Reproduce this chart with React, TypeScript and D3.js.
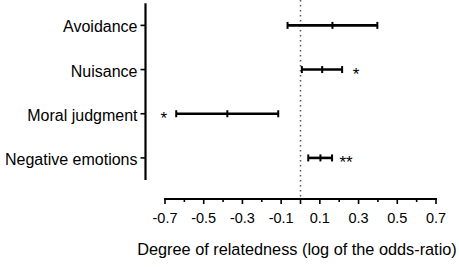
import React from "react";
import * as d3 from "d3";

const categories = ["Avoidance", "Nuisance", "Moral judgment", "Negative emotions"];
const estimates = [0.165, 0.112, -0.378, 0.103];
const lowerCI = [-0.067, 0.007, -0.642, 0.04];
const upperCI = [0.397, 0.215, -0.115, 0.163];
const significance = ["", "*", "*", "**"];
const tickValues = [-0.7, -0.5, -0.3, -0.1, 0.1, 0.3, 0.5, 0.7];
const minorTicks = [-0.7, -0.6, -0.5, -0.4, -0.3, -0.2, -0.1, 0, 0.1, 0.2, 0.3, 0.4, 0.5, 0.6, 0.7];
const xTitle = "Degree of relatedness (log of the odds-ratio)";

const W = 459;
const H = 267;
const FONT = "Liberation Sans, Arial, sans-serif";

export default function App() {
  const x = d3.scaleLinear().domain([-0.7, 0.7]).range([165, 436]);
  const y = d3.scalePoint<string>().domain(categories).range([3.3, 180]).padding(0.5);
  const axisY = 199;
  const yAxisX = 145.5;

  return (
    <svg
      width={W}
      height={H}
      style={{ position: "absolute", left: 0, top: 0, background: "#fff" }}
      fontFamily={FONT}
    >
      <line
        x1={x(0)}
        x2={x(0)}
        y1={0}
        y2={axisY}
        stroke="#555"
        strokeWidth={1.5}
        strokeDasharray="1.5 3.5"
      />
      <line x1={yAxisX} x2={yAxisX} y1={3.3} y2={180} stroke="#000" strokeWidth={2.2} />
      {categories.map((c) => (
        <g key={c}>
          <line x1={yAxisX - 5} x2={yAxisX} y1={y(c)!} y2={y(c)!} stroke="#000" strokeWidth={1.6} />
          <text x={yAxisX - 8} y={y(c)! + 7} textAnchor="end" fontSize={16} fill="#000">
            {c}
          </text>
        </g>
      ))}
      <line x1={x(-0.7) - 1} x2={x(0.7) + 1} y1={axisY} y2={axisY} stroke="#000" strokeWidth={2} />
      {minorTicks.map((t, i) => {
        const major = tickValues.some((v) => Math.abs(v - t) < 1e-9) || Math.abs(t) < 1e-9;
        return (
          <line
            key={i}
            x1={x(t)}
            x2={x(t)}
            y1={axisY}
            y2={axisY + (major ? 5 : 3)}
            stroke="#000"
            strokeWidth={1.6}
          />
        );
      })}
      {tickValues.map((t) => (
        <text key={t} x={x(t)} y={axisY + 23.5} textAnchor="middle" fontSize={14.5} fill="#000">
          {d3.format(".1f")(t).replace("−", "-")}
        </text>
      ))}
      <text x={297} y={255} textAnchor="middle" fontSize={16.3} fill="#000">
        {xTitle}
      </text>
      {categories.map((c, i) => {
        const cy = y(c)!;
        const x0 = x(lowerCI[i]);
        const x1 = x(upperCI[i]);
        const xm = x(estimates[i]);
        const starX = estimates[i] < 0 ? x0 - 12.5 : x1 + 14;
        return (
          <g key={c}>
            <line x1={x0} x2={x1} y1={cy} y2={cy} stroke="#000" strokeWidth={2.6} />
            <line x1={x0} x2={x0} y1={cy - 3.5} y2={cy + 3.5} stroke="#000" strokeWidth={2} />
            <line x1={x1} x2={x1} y1={cy - 3.5} y2={cy + 3.5} stroke="#000" strokeWidth={2} />
            <line x1={xm} x2={xm} y1={cy - 3.5} y2={cy + 3.5} stroke="#000" strokeWidth={2} />
            {significance[i] && (
              <text x={starX} y={cy + 10} textAnchor="middle" fontSize={17} fill="#000">
                {significance[i]}
              </text>
            )}
          </g>
        );
      })}
    </svg>
  );
}
